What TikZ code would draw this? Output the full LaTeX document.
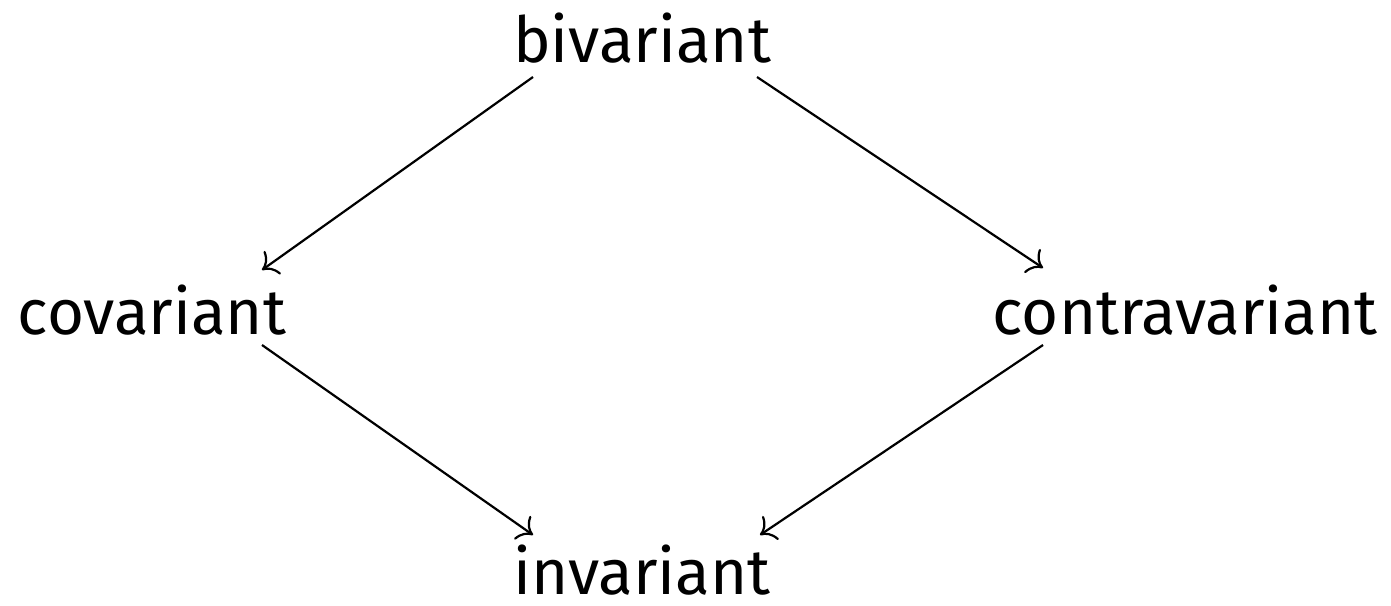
\documentclass[tikz,border=0pt]{standalone}
\usepackage{fontspec}
\setmainfont{Fira Sans}
\usetikzlibrary{calc,arrows.meta}
\begin{document}
\begin{tikzpicture}[x=0.5pt,y=-0.5pt,
  lbl/.style={inner sep=0pt,anchor=base,font=\fontsize{31.8}{38}\selectfont},
  arr/.style={-{Computer Modern Rightarrow[scale=1.7]},line width=1.1pt}]
\useasboundingbox (0,0) rectangle (1391,605);
\node[lbl] (b) at (642,62) {bivariant};
\node[lbl] (co) at (152,334) {covariant};
\node[lbl] (ct) at (1185,334) {contravariant};
\node[lbl] (in) at (642,594) {invariant};
\draw[arr] ($(b.base)+(-109,15)$) -- ($(co.base)+(110,-64)$);
\draw[arr] ($(b.base)+(115,15)$) -- ($(ct.base)+(-142,-66)$);
\draw[arr] ($(co.base)+(110,11)$) -- ($(in.base)+(-109,-59)$);
\draw[arr] ($(ct.base)+(-142,11)$) -- ($(in.base)+(118,-59)$);
\end{tikzpicture}
\end{document}
